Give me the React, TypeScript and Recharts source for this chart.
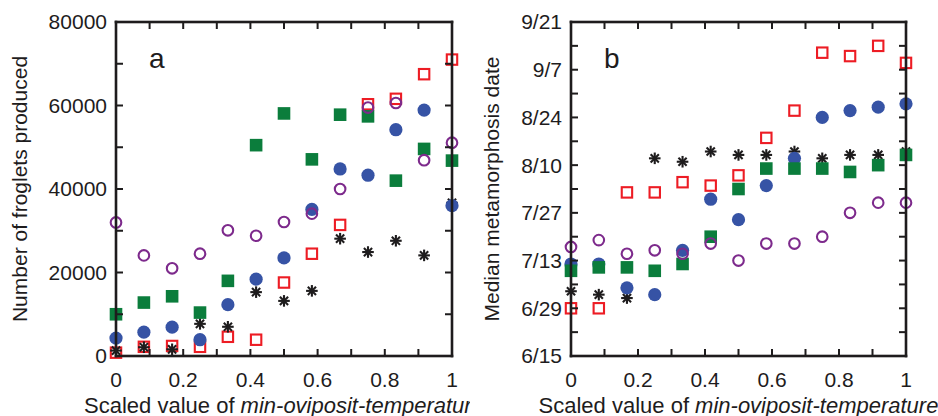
import React from 'react';
import { ScatterChart, Scatter, XAxis, YAxis } from 'recharts';

// scaled min-oviposit-temperature (13 levels)
const xVals = [0, 0.083, 0.167, 0.25, 0.333, 0.417, 0.5, 0.583, 0.667, 0.75, 0.833, 0.917, 1];

// panel a: number of froglets produced
const frogRed = [800, 2200, 2400, 2200, 4600, 3900, 17600, 24500, 31400, 60300, 61600, 67500, 71000];
const frogBlack = [1300, 2100, 1600, 7700, 7000, 15300, 13200, 15600, 28100, 24900, 27600, 24100, 36700];
const frogBlue = [4300, 5700, 6900, 3900, 12300, 18400, 23500, 35100, 44800, 43300, 54200, 58900, 36000];
const frogGreen = [10000, 12800, 14300, 10400, 18000, 50500, 58100, 47100, 57800, 57400, 42000, 49600, 46800];
const frogPurple = [32000, 24100, 21000, 24500, 30100, 28800, 32100, 34100, 40000, 59500, 60600, 46900, 51100];

// panel b: median metamorphosis date, in days after 6/15
const dateRed = [14, 14, 48, 48, 51, 50, 53, 64, 72, 89, 88, 91, 86];
const dateBlack = [19, 18, 17, 58, 57, 60, 59, 59, 60, 58, 59, 59, 60];
const dateBlue = [27, 27, 20, 18, 31, 46, 40, 50, 58, 70, 72, 73, 74];
const dateGreen = [25, 26, 26, 25, 27, 35, 49, 55, 55, 55, 54, 56, 59];
const datePurple = [32, 34, 30, 31, 30, 33, 28, 33, 33, 35, 42, 45, 45];

const xTicks = [0, 0.1, 0.2, 0.3, 0.4, 0.5, 0.6, 0.7, 0.8, 0.9, 1];
const xTickLabels = ['0', '', '0.2', '', '0.4', '', '0.6', '', '0.8', '', '1'];
const frogTicks = [0, 10000, 20000, 30000, 40000, 50000, 60000, 70000, 80000];
const frogTickLabels = ['0', '', '20000', '', '40000', '', '60000', '', '80000'];
const dateTicks = [0, 7, 14, 21, 28, 35, 42, 49, 56, 63, 70, 77, 84, 91, 98];
const dateTickLabels = ['6/15', '', '6/29', '', '7/13', '', '7/27', '', '8/10', '', '8/24', '', '9/7', '', '9/21'];

const INK = '#1e1c1d';
const RED = '#ed1c24';
const BLUE = '#3653a5';
const GREEN = '#0b7d3c';
const PURPLE = '#7d2a8c';
const FONT = 'Liberation Sans, Arial, sans-serif';

const CHART_H = 416;
const TOP = 22;
const BOTTOM_SPACE = 60;
const TICK_LEN = 7;
const FRAME_W = 2.6;
const TICK_W = 2;

const toPoints = (ys: number[]) => ys.map((y, i) => ({ x: xVals[i], y }));

const redSquare = (p: any) => (
  <rect x={p.cx - 5.2} y={p.cy - 5.2} width={10.4} height={10.4} fill="none" stroke={RED} strokeWidth={2.1} />
);
const greenSquare = (p: any) => (
  <rect x={p.cx - 6.3} y={p.cy - 6.3} width={12.6} height={12.6} fill={GREEN} />
);
const blueDot = (p: any) => <circle cx={p.cx} cy={p.cy} r={6.6} fill={BLUE} />;
const purpleRing = (p: any) => (
  <circle cx={p.cx} cy={p.cy} r={5.3} fill="none" stroke={PURPLE} strokeWidth={2.1} />
);
const star = (p: any) => {
  const r = 5.8;
  const d = r * 0.7071;
  return (
    <g stroke={INK} strokeWidth={2.1}>
      <line x1={p.cx - r} y1={p.cy} x2={p.cx + r} y2={p.cy} />
      <line x1={p.cx} y1={p.cy - r} x2={p.cx} y2={p.cy + r} />
      <line x1={p.cx - d} y1={p.cy - d} x2={p.cx + d} y2={p.cy + d} />
      <line x1={p.cx - d} y1={p.cy + d} x2={p.cx + d} y2={p.cy - d} />
    </g>
  );
};

// boxed frame with inward ticks (as thin filled bars), tick labels and titles
function Frame(props: any) {
  const { width, plotLeft, plotRight, yDomain, yTicks, yTickLabels, yTitle, titleX, letter } = props;
  const top = TOP;
  const bottom = CHART_H - BOTTOM_SPACE;
  const plotW = plotRight - plotLeft;
  const plotH = bottom - top;
  const sx = (v: number) => plotLeft + v * plotW;
  const sy = (v: number) => bottom - ((v - yDomain[0]) / (yDomain[1] - yDomain[0])) * plotH;
  const midY = (top + bottom) / 2;
  const h = FRAME_W / 2;
  const t = TICK_W / 2;
  return (
    <svg
      width={width}
      height={CHART_H}
      style={{ position: 'absolute', left: 0, top: 0, pointerEvents: 'none', zIndex: 2 }}
      fontFamily={FONT}
    >
      <g fill={INK}>
        <rect x={plotLeft - h} y={top - h} width={FRAME_W} height={plotH + FRAME_W} />
        <rect x={plotRight - h} y={top - h} width={FRAME_W} height={plotH + FRAME_W} />
        <rect x={plotLeft - h} y={top - h} width={plotW + FRAME_W} height={FRAME_W} />
        <rect x={plotLeft - h} y={bottom - h} width={plotW + FRAME_W} height={FRAME_W} />
        {xTicks.map((v, i) => (
          <g key={'xt' + i}>
            <rect x={sx(v) - t} y={bottom - TICK_LEN} width={TICK_W} height={TICK_LEN} />
            <rect x={sx(v) - t} y={top} width={TICK_W} height={TICK_LEN} />
          </g>
        ))}
        {yTicks.map((v: number, i: number) => (
          <g key={'yt' + i}>
            <rect x={plotLeft} y={sy(v) - t} width={TICK_LEN} height={TICK_W} />
            <rect x={plotRight - TICK_LEN} y={sy(v) - t} width={TICK_LEN} height={TICK_W} />
          </g>
        ))}
      </g>
      {xTicks.map((v, i) =>
        xTickLabels[i] ? (
          <text key={'xl' + i} x={sx(v)} y={bottom + 31} textAnchor="middle" fontSize={21} fill={INK}>
            {xTickLabels[i]}
          </text>
        ) : null
      )}
      {yTicks.map((v: number, i: number) =>
        yTickLabels[i] ? (
          <text key={'yl' + i} x={plotLeft - 9} y={sy(v)} dy="0.355em" textAnchor="end" fontSize={21} fill={INK}>
            {yTickLabels[i]}
          </text>
        ) : null
      )}
      <text x={(plotLeft + plotRight) / 2} y={bottom + 57} textAnchor="middle" fontSize={22} fill={INK}>
        {'Scaled value of '}
        <tspan fontStyle="italic">min-oviposit-temperature</tspan>
      </text>
      <text
        x={titleX}
        y={midY}
        dy="0.355em"
        textAnchor="middle"
        fontSize={21}
        fill={INK}
        transform={`rotate(-90 ${titleX} ${midY})`}
      >
        {yTitle}
      </text>
      <text x={plotLeft + 33} y={68} fontSize={28} fill={INK}>
        {letter}
      </text>
    </svg>
  );
}

function Panel(props: any) {
  const { width, plotLeft, plotRight, yDomain, series } = props;
  return (
    <div style={{ position: 'relative', width, height: CHART_H, overflow: 'hidden' }}>
      <ScatterChart
        width={width}
        height={CHART_H}
        margin={{ top: TOP, right: width - plotRight, bottom: BOTTOM_SPACE, left: plotLeft }}
      >
        <XAxis dataKey="x" type="number" domain={[0, 1]} hide />
        <YAxis dataKey="y" type="number" domain={yDomain} hide />
        {series.map((s: any, i: number) => (
          <Scatter key={i} data={toPoints(s.data)} shape={s.shape} isAnimationActive={false} />
        ))}
      </ScatterChart>
      <Frame {...props} />
    </div>
  );
}

export default function App() {
  return (
    <div style={{ position: 'absolute', left: 0, top: 0, width: 938, height: 416, background: '#fff' }}>
      <div style={{ position: 'absolute', left: 0, top: 0 }}>
        <Panel
          width={470}
          plotLeft={116}
          plotRight={452}
          yDomain={[0, 80000]}
          yTicks={frogTicks}
          yTickLabels={frogTickLabels}
          yTitle="Number of froglets produced"
          titleX={20}
          letter="a"
          series={[
            { data: frogRed, shape: redSquare },
            { data: frogBlack, shape: star },
            { data: frogBlue, shape: blueDot },
            { data: frogGreen, shape: greenSquare },
            { data: frogPurple, shape: purpleRing },
          ]}
        />
      </div>
      <div style={{ position: 'absolute', left: 470, top: 0, background: '#fff' }}>
        <Panel
          width={468}
          plotLeft={101}
          plotRight={436}
          yDomain={[0, 98]}
          yTicks={dateTicks}
          yTickLabels={dateTickLabels}
          yTitle="Median metamorphosis date"
          titleX={22}
          letter="b"
          series={[
            { data: dateRed, shape: redSquare },
            { data: dateBlack, shape: star },
            { data: dateBlue, shape: blueDot },
            { data: dateGreen, shape: greenSquare },
            { data: datePurple, shape: purpleRing },
          ]}
        />
      </div>
    </div>
  );
}
